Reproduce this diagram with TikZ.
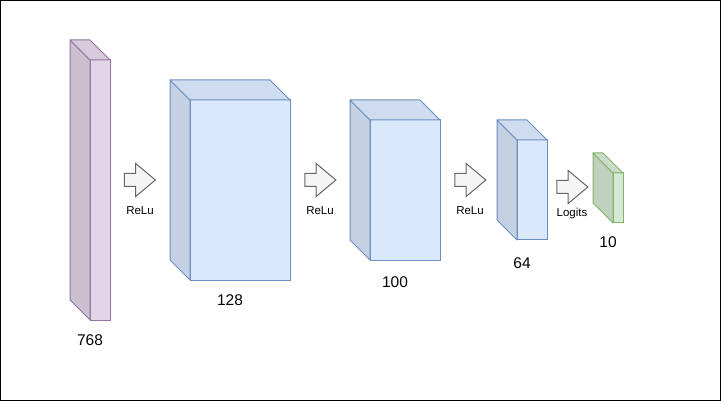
\documentclass[tikz,border=0pt]{standalone}
\usepackage{fontspec}
\setmainfont{Liberation Sans}
\usepackage{tikz}
\usetikzlibrary{positioning,shapes.arrows}
\definecolor{vioFill}{HTML}{E1D5E7}
\definecolor{vioLine}{HTML}{9673A6}
\definecolor{bluFill}{HTML}{DAE8FC}
\definecolor{bluLine}{HTML}{6C8EBF}
\definecolor{grnFill}{HTML}{D5E8D4}
\definecolor{grnLine}{HTML}{82B366}
\definecolor{arrFill}{HTML}{F5F5F5}
\definecolor{arrLine}{HTML}{666666}
% side and top faces of a layer box: #1 front node, #2 fill, #3 line
\newcommand{\cubesides}[3]{%
  \filldraw[draw=#3,fill=#2!90!black,line width=1pt,line join=round]
    (#1.north west) -- ++(-20,-20) -- ([shift={(-20,-20)}]#1.south west) -- (#1.south west) -- cycle;
  \filldraw[draw=#3,fill=#2!95!black,line width=1pt,line join=round]
    (#1.north west) -- ++(-20,-20) -- ([shift={(-20,-20)}]#1.north east) -- (#1.north east) -- cycle;
}

\begin{document}
\begin{tikzpicture}[x=1pt,y=-1pt,
  face/.style={rectangle,draw,line width=1pt,inner sep=0pt,outer sep=0pt},
  blk/.style={single arrow,draw=arrLine,fill=arrFill,line width=1pt,
    minimum height=31,single arrow head extend=10,
    single arrow tip angle=80,inner xsep=0pt,inner ysep=6pt,outer sep=0pt},
  num/.style={font=\fontsize{15.5}{18}\selectfont,inner sep=0pt},
  act/.style={font=\fontsize{11.5}{13}\selectfont,inner sep=0pt}]
\useasboundingbox (0,0) rectangle (721,401);
\draw[line width=1.2pt] (0.6,0.6) rectangle (720.4,400.4);

% input layer
  \node[face,draw=vioLine,fill=vioFill,minimum width=20,minimum height=260] (f768) at (100,190) {};
  \cubesides{f768}{vioFill}{vioLine}
  \node[num] (n768) at ([shift={(-10,20)}]f768.south) {768};

% first hidden layer
  \node[face,draw=bluLine,fill=bluFill,minimum width=100,minimum height=180] (f128) at (240,190) {};
  \cubesides{f128}{bluFill}{bluLine}
  \node[num] (n128) at ([shift={(-10,20)}]f128.south) {128};

% second hidden layer
  \node[face,draw=bluLine,fill=bluFill,minimum width=70,minimum height=140] (f100) at (405,190) {};
  \cubesides{f100}{bluFill}{bluLine}
  \node[num] (n100) at ([shift={(-10,22)}]f100.south) {100};

% third hidden layer
  \node[face,draw=bluLine,fill=bluFill,minimum width=30,minimum height=100] (f64) at (532,190) {};
  \cubesides{f64}{bluFill}{bluLine}
  \node[num] (n64) at ([shift={(-10,23)}]f64.south) {64};

% output layer
  \node[face,draw=grnLine,fill=grnFill,minimum width=10,minimum height=50] (f10) at (618,198) {};
  \cubesides{f10}{grnFill}{grnLine}
  \node[num] (n10) at ([shift={(-10,19)}]f10.south) {10};

% activations
  \node[blk] (a1) at (136,180) {};
  \node[blk] (a2) at (316.5,180) {};
  \node[blk] (a3) at (466.5,180) {};
  \node[blk] (a4) at (568.5,187) {};

  \node[act] (r1) at (140,211) {ReLu};
  \node[act] (r2) at (320,211) {ReLu};
  \node[act] (r3) at (470,211) {ReLu};
  \node[act] (r4) at (572,214) {Logits};

\end{tikzpicture}
\end{document}
